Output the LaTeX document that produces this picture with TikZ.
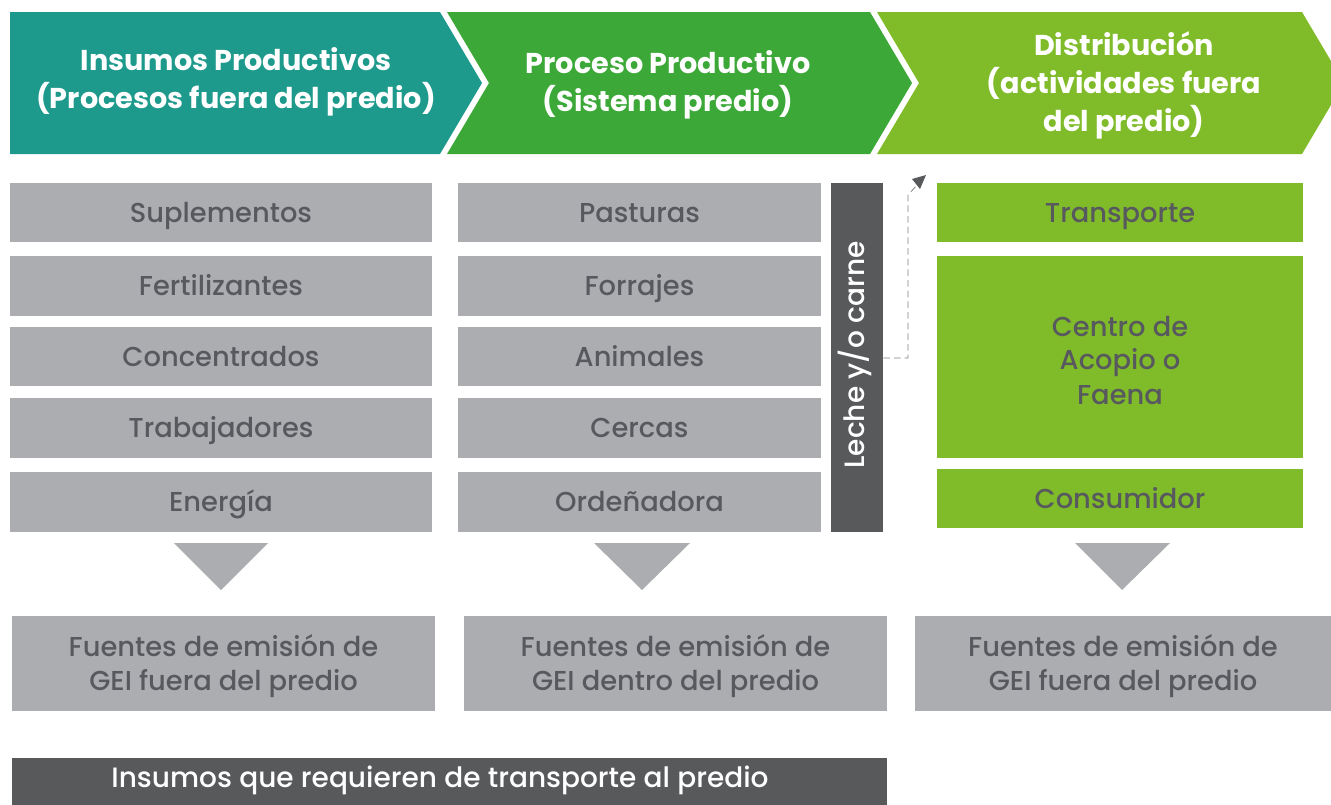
\documentclass[tikz,border=0pt]{standalone}
\usepackage{fontspec}
\setmainfont{Poppins}
\IfFontExistsTF{Poppins Medium}{\newfontfamily\medfont{Poppins Medium}}{\newfontfamily\medfont{Poppins}}
\usetikzlibrary{arrows.meta,calc}
\definecolor{teal1}{HTML}{1E9A8C}
\definecolor{green1}{HTML}{3CA838}
\definecolor{lime1}{HTML}{80BC2A}
\definecolor{boxgray}{HTML}{ACADB0}
\definecolor{darkbar}{HTML}{58595B}
\definecolor{txtgray}{HTML}{58595E}
\begin{document}
\begin{tikzpicture}[x=0.75pt,y=-0.75pt,
  head/.style={text=white, align=center, font=\fontsize{21.5}{28.5}\selectfont\bfseries},
  bfont/.style={font=\fontsize{20.5}{25.5}\selectfont\medfont},
  gbox/.style={fill=boxgray, text=txtgray, inner sep=0pt, bfont, text height=14.3pt, text depth=0pt},
  gboxm/.style={fill=boxgray, text=txtgray, inner sep=0pt, align=center, bfont},
  lbox/.style={fill=lime1, text=txtgray, inner sep=0pt, bfont, text height=14.3pt, text depth=0pt},
  lboxm/.style={fill=lime1, text=txtgray, inner sep=0pt, align=center, bfont},
  dbox/.style={fill=darkbar, inner sep=0pt},
  wtext/.style={text=white, inner sep=0pt, font=\fontsize{21}{25}\selectfont\medfont, text height=14.7pt, text depth=0pt},
  tri/.style={fill=boxgray},
  flow/.style={dash pattern=on 5pt off 3pt, draw=gray, line width=0.6pt}
]
\useasboundingbox (0,0) rectangle (1331,804);
\clip (0,0) rectangle (1331,804);

% chevrons
\fill[teal1] (10,12) -- (440,12) -- (482,83) -- (440,154) -- (10,154) -- cycle;
\fill[green1] (447,12) -- (870,12) -- (912,83) -- (870,154) -- (447,154) -- (489,83) -- cycle;
\fill[lime1] (877,12) -- (1302,12) -- (1344,83) -- (1302,154) -- (877,154) -- (919,83) -- cycle;

\node[head] (h1) at (236,82) {Insumos Productivos\\(Procesos fuera del predio)};
\node[head] (h2) at (668,85) {Proceso Productivo\\(Sistema predio)};
\node[head] (h3) at (1124,85) {Distribución\\(actividades fuera\\del predio)};

% column 1
\node[gbox, minimum width=422*0.75pt, minimum height=59*0.75pt] (c1a) at (221,212.5) {Suplementos};
\node[gbox, minimum width=422*0.75pt, minimum height=60*0.75pt] (c1b) at (221,286) {Fertilizantes};
\node[gbox, minimum width=422*0.75pt, minimum height=59*0.75pt] (c1c) at (221,356.5) {Concentrados};
\node[gbox, minimum width=422*0.75pt, minimum height=60*0.75pt] (c1d) at (221,428) {Trabajadores};
\node[gbox, minimum width=422*0.75pt, minimum height=60*0.75pt] (c1e) at (221,502) {Energía};

% column 2
\node[gbox, minimum width=363*0.75pt, minimum height=59*0.75pt] (c2a) at (639.5,212.5) {Pasturas};
\node[gbox, minimum width=363*0.75pt, minimum height=60*0.75pt] (c2b) at (639.5,286) {Forrajes};
\node[gbox, minimum width=363*0.75pt, minimum height=59*0.75pt] (c2c) at (639.5,356.5) {Animales};
\node[gbox, minimum width=363*0.75pt, minimum height=60*0.75pt] (c2d) at (639.5,428) {Cercas};
\node[gbox, minimum width=363*0.75pt, minimum height=60*0.75pt] (c2e) at (639.5,502) {Ordeñadora};

% vertical bar
\node[dbox, minimum width=52*0.75pt, minimum height=349*0.75pt] (leche) at (857,357.5) {};
\node[wtext, rotate=90] (lechet) at (855,355) {Leche y/o carne};

% column 3
\node[lbox, minimum width=366*0.75pt, minimum height=59*0.75pt] (c3a) at (1120,212.5) {Transporte};
\node[lboxm, minimum width=366*0.75pt, minimum height=202*0.75pt] (c3b) at (1120,357) {};
\node[text=txtgray, inner sep=0pt, align=center, bfont] (c3bt) at (1120,360) {Centro de\\Acopio o\\Faena};
\node[lbox, minimum width=366*0.75pt, minimum height=59*0.75pt] (c3c) at (1120,498.5) {Consumidor};

% dashed arrow
\coordinate (k1) at (908,358);
\coordinate (k2) at (908,195);
\coordinate (k3) at (926,175);
\draw[flow] (leche.east |- k1) -- (k1) -- (k2) -- ($(k2)!0.5!(k3)$);
\fill[darkbar] (k3) -- (920,189) -- (912,179) -- cycle;

% triangles
\fill[tri] (174,543) -- (268,543) -- (221,590) -- cycle;
\fill[tri] (594,543) -- (690,543) -- (642,590) -- cycle;
\fill[tri] (1075,543) -- (1170,543) -- (1122,590) -- cycle;

% bottom boxes
\node[gboxm, minimum width=423*0.75pt, minimum height=95*0.75pt] (f1) at (223.5,663.5) {};
\node[gboxm, minimum width=423*0.75pt, minimum height=95*0.75pt] (f2) at (675.5,663.5) {};
\node[gboxm, minimum width=416*0.75pt, minimum height=95*0.75pt] (f3) at (1123,663.5) {};
\node[text=txtgray, inner sep=0pt, align=center, bfont] (f1t) at (223.5,666.5) {Fuentes de emisión de\\GEI fuera del predio};
\node[text=txtgray, inner sep=0pt, align=center, bfont] (f2t) at (675.5,666.5) {Fuentes de emisión de\\GEI dentro del predio};
\node[text=txtgray, inner sep=0pt, align=center, bfont] (f3t) at (1123,666.5) {Fuentes de emisión de\\GEI fuera del predio};

% bottom bar
\node[dbox, minimum width=875*0.75pt, minimum height=52*0.75pt] (bar) at (449.5,784) {};
\node[wtext] (bart) at (440,778) {Insumos que requieren de transporte al predio};
\end{tikzpicture}
\end{document}
